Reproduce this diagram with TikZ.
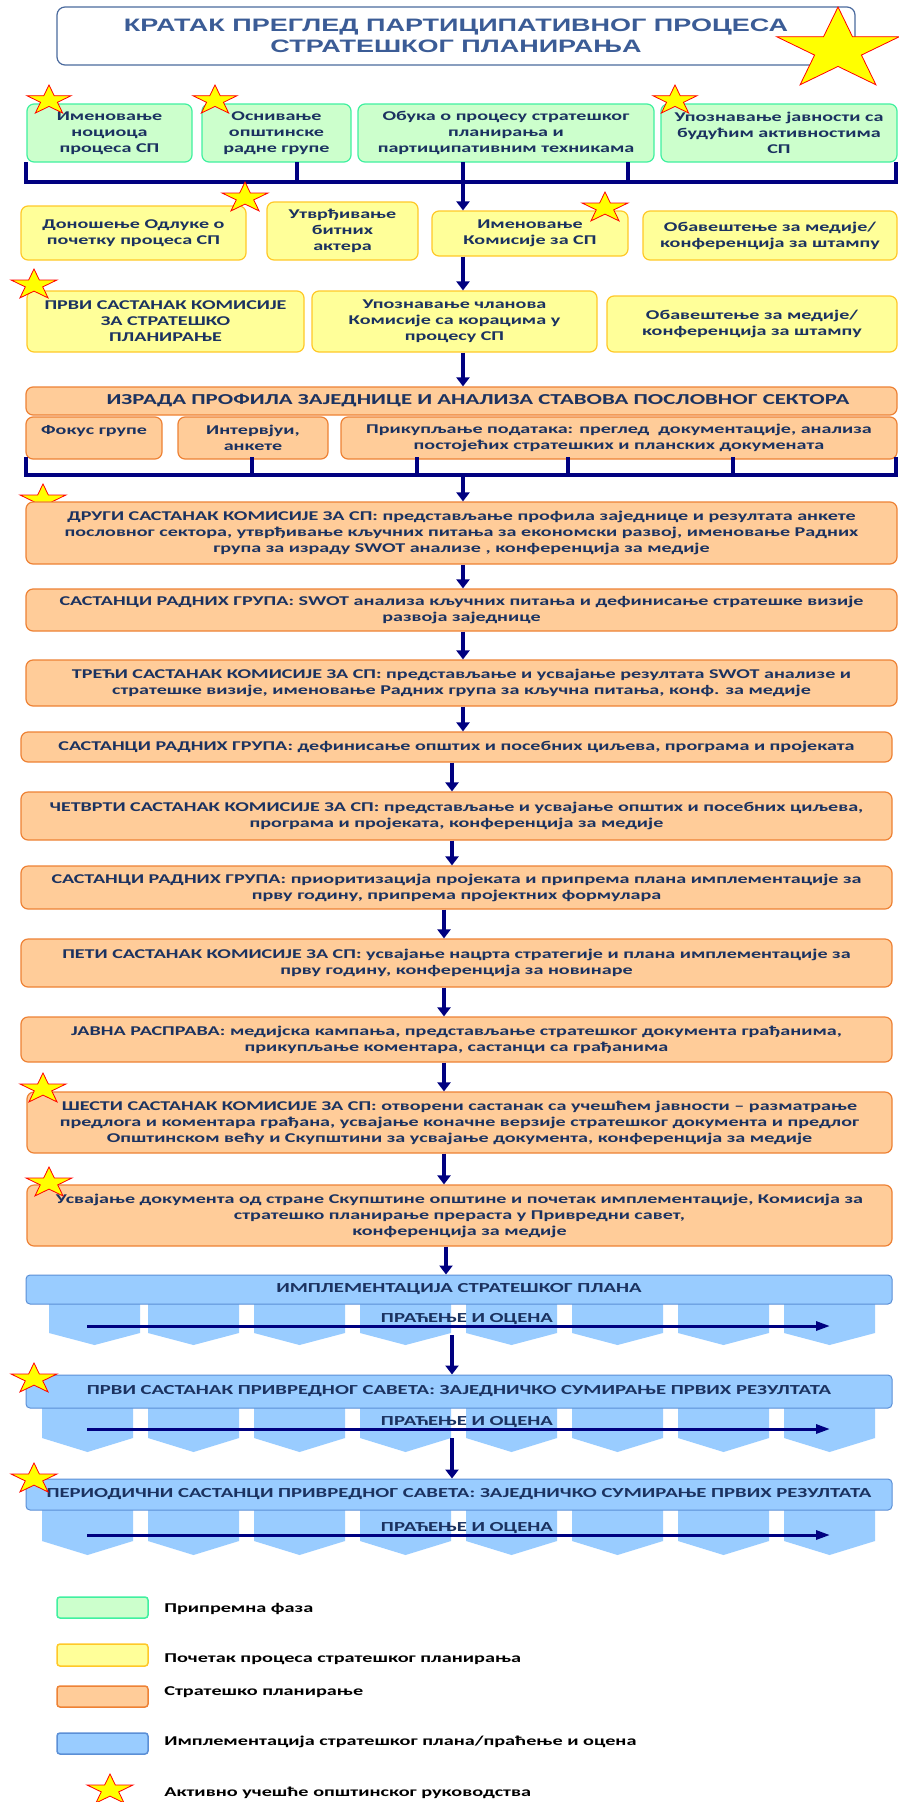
\documentclass[tikz,border=0pt]{standalone}
\usepackage{fontspec}
\setmainfont{Carlito}
\newfontfamily\titlefont{Liberation Sans}
\usetikzlibrary{shapes.geometric,arrows.meta}
\definecolor{navyc}{HTML}{000080}
\definecolor{txtc}{HTML}{1B3260}
\definecolor{titlec}{HTML}{3B5C96}
\definecolor{titledraw}{HTML}{4A6A9E}
\definecolor{gfill}{HTML}{CCFFCC}
\definecolor{gdraw}{HTML}{40F0A0}
\definecolor{yfill}{HTML}{FFFF99}
\definecolor{ydraw}{HTML}{FFC828}
\definecolor{ofill}{HTML}{FFCC99}
\definecolor{odraw}{HTML}{EE8235}
\definecolor{bfill}{HTML}{99CCFF}
\definecolor{bdraw}{HTML}{5B8FD6}
\definecolor{starfill}{HTML}{FFFF00}
\definecolor{stardraw}{HTML}{FF0000}
\newcommand\placebox[7]{%
  \pgfmathsetmacro\pbcx{(#3+#5)/2}%
  \pgfmathsetmacro\pbcy{(#4+#6)/2}%
  \pgfmathsetmacro\pbw{(#5-#3)/1.5}%
  \pgfmathsetmacro\pbh{#6-#4}%
  \node[#2, minimum width=\pbw pt, minimum height=\pbh pt] (#1) at (\pbcx,\pbcy) {#7};}
\newcommand\placestar[4]{\node[starst, minimum size=#4pt] (#1) at (#2,#3) {};}
\newcommand\chevron[5]{\fill[bfill] (#1,#3) -- (#2,#3) -- (#2,#4) -- ({(#1+#2)/2},#5) -- (#1,#4) -- cycle;}
\begin{document}
\begin{tikzpicture}[x=1pt,y=-1pt,
  bbase/.style={rounded corners=7pt, line width=1.2pt, align=center, inner sep=0pt, xscale=1.5, font=\bfseries\fontsize{13.4}{16}\selectfont, text=txtc},
  gbox/.style={bbase, fill=gfill, draw=gdraw},
  ybox/.style={bbase, fill=yfill, draw=ydraw},
  obox/.style={bbase, fill=ofill, draw=odraw},
  bbar/.style={bbase, rounded corners=4pt, fill=bfill, draw=bdraw, line width=1pt, font=\bfseries\fontsize{13.8}{16}\selectfont},
  lgbox/.style={bbase, rounded corners=3pt, line width=1.5pt},
  plain/.style={align=center, inner sep=0pt, xscale=1.5, font=\bfseries\fontsize{13.8}{16}\selectfont, text=txtc},
  legtext/.style={plain, anchor=west, text=black, font=\bfseries\fontsize{13.5}{16}\selectfont},
  starst/.style={star, star points=5, star point ratio=2.618, fill=starfill, draw=stardraw, line width=0.8pt, inner sep=0pt, xscale=1.5},
  varrow/.style={draw=navyc, line width=4pt, -{Triangle[width=13pt,length=9pt]}},
  harrow/.style={draw=navyc, line width=3pt, -{Triangle[width=9pt,length=14pt]}},
  bus/.style={draw=navyc, line width=4pt, line join=miter},
]
\fill[white] (0,0) rectangle (898,1802);
\useasboundingbox (0,0) rectangle (898,1802);
% title
\placebox{title}{bbase, rounded corners=8pt, fill=white, draw=titledraw, line width=1.2pt, text=titlec, font=\titlefont\bfseries\fontsize{18}{20.5}\selectfont}{57}{7}{855}{65}{КРАТАК ПРЕГЛЕД ПАРТИЦИПАТИВНОГ ПРОЦЕСА\\СТРАТЕШКОГ ПЛАНИРАЊА}
\placestar{bigstar}{838}{50}{86}
% preparatory phase
\placebox{g1}{gbox}{27}{104}{192}{162}{Именовање\\ноциоца\\процеса СП}
\placebox{g2}{gbox}{202}{104}{351}{162}{Оснивање\\општинске\\радне групе}
\placebox{g3}{gbox}{358}{104}{654}{162}{Обука о процесу стратешког\\планирања и\\партиципативним техникама}
\placebox{g4}{gbox}{661}{104}{897}{162}{Упознавање јавности са\\будућим активностима\\СП}
\placestar{s1}{49}{100.5}{31}
\placestar{s2}{215}{100.5}{31}
\placestar{s3}{675}{100.5}{31}
% bus 1
\draw[bus] (26,162) -- (26,182) -- (896,182) -- (896,162);
\foreach \xx in {297,463,628} \draw[bus] (\xx,162) -- (\xx,182);
\coordinate (bus1) at (463,182);
% start of process
\placebox{y1}{ybox}{21}{206}{246}{260}{Доношење Одлуке о\\почетку процеса СП}
\placebox{y2}{ybox}{267}{202}{418}{260}{Утврђивање\\битних\\актера}
\placebox{y3}{ybox}{432}{211}{628}{256}{Именовање\\Комисије за СП}
\placebox{y4}{ybox}{643}{211}{897}{260}{Обавештење за медије/\\конференција за штампу}
\placestar{s4}{245}{198}{32}
\placestar{s5}{605}{208}{32}
\placebox{y5}{ybox}{27}{291}{304}{352}{ПРВИ САСТАНАК КОМИСИЈЕ\\ЗА СТРАТЕШКО\\ПЛАНИРАЊЕ}
\placebox{y6}{ybox}{312}{291}{597}{352}{Упознавање чланова\\Комисије са корацима у\\процесу СП}
\placebox{y7}{ybox}{607}{296}{897}{352}{Обавештење за медије/\\конференција за штампу}
\placestar{s6}{34}{285}{32}
\draw[varrow] (bus1) -- (bus1 |- y3.north);
\draw[varrow] (bus1 |- y3.south) -- (bus1 |- y6.north);
% profile
\placebox{h}{obox, font=\bfseries\fontsize{15.2}{17}\selectfont}{26}{387}{897}{415}{\hspace*{22pt}ИЗРАДА ПРОФИЛА ЗАЈЕДНИЦЕ И АНАЛИЗА СТАВОВА ПОСЛОВНОГ СЕКТОРА}
\draw[varrow] (bus1 |- y6.south) -- (bus1 |- h.north);
\placebox{f1}{obox}{26}{417}{162}{459}{Фокус групе\\\phantom{Ф}}
\placebox{f2}{obox}{178}{417}{328}{459}{Интервјуи,\\анкете}
\placebox{f3}{obox}{341}{417}{897}{459}{Прикупљање података: преглед\ \ документације, анализа\\постојећих стратешких и планских докумената}
% bus 2
\draw[bus] (26,457) -- (26,475) -- (896,475) -- (896,457);
\foreach \xx in {252,417,568,733} \draw[bus] (\xx,457) -- (\xx,475);
\coordinate (bus2) at (463,475);
% strategic planning
\placestar{s7}{43}{500}{32}
\placebox{o1}{obox}{26}{502}{897}{564}{ДРУГИ САСТАНАК КОМИСИЈЕ ЗА СП: представљање профила заједнице и резултата анкете\\пословног сектора, утврђивање кључних питања за економски развој, именовање Радних\\група за израду SWOT анализе , конференција за медије}
\placebox{o2}{obox}{26}{589}{897}{631}{САСТАНЦИ РАДНИХ ГРУПА: SWOT анализа кључних питања и дефинисање стратешке визије\\развоја заједнице}
\placebox{o3}{obox}{26}{660}{897}{706}{ТРЕЋИ САСТАНАК КОМИСИЈЕ ЗА СП: представљање и усвајање резултата SWOT анализе и\\стратешке визије, именовање Радних група за кључна питања, конф. за медије}
\placebox{o4}{obox}{21}{732}{892}{762}{САСТАНЦИ РАДНИХ ГРУПА: дефинисање општих и посебних циљева, програма и пројеката}
\placebox{o5}{obox}{21}{792}{892}{840}{ЧЕТВРТИ САСТАНАК КОМИСИЈЕ ЗА СП: представљање и усвајање општих и посебних циљева,\\програма и пројеката, конференција за медије}
\placebox{o6}{obox}{21}{866}{892}{909}{САСТАНЦИ РАДНИХ ГРУПА: приоритизација пројеката и припрема плана имплементације за\\прву годину, припрема пројектних формулара}
\placebox{o7}{obox}{21}{939}{892}{987}{ПЕТИ САСТАНАК КОМИСИЈЕ ЗА СП: усвајање нацрта стратегије и плана имплементације за\\прву годину, конференција за новинаре}
\placebox{o8}{obox}{21}{1017}{892}{1062}{ЈАВНА РАСПРАВА: медијска кампања, представљање стратешког документа грађанима,\\прикупљање коментара, састанци са грађанима}
\placebox{o9}{obox}{27}{1092}{892}{1153}{ШЕСТИ САСТАНАК КОМИСИЈЕ ЗА СП: отворени састанак са учешћем јавности – разматрање\\предлога и коментара грађана, усвајање коначне верзије стратешког документа и предлог\\Општинском већу и Скупштини за усвајање документа, конференција за медије}
\placebox{o10}{obox}{27}{1185}{892}{1246}{Усвајање документа од стране Скупштине општине и почетак имплементације, Комисија за\\стратешко планирање прераста у Привредни савет,\\конференција за медије}
\placestar{s8}{43}{1089}{32}
\placestar{s9}{49}{1183}{32}
\coordinate (ax2) at (452,0);
\coordinate (ax3) at (444,0);
\coordinate (ax4) at (446,0);
\draw[varrow] (bus2) -- (bus2 |- o1.north);
\draw[varrow] (bus2 |- o1.south) -- (bus2 |- o2.north);
\draw[varrow] (bus2 |- o2.south) -- (bus2 |- o3.north);
\draw[varrow] (bus2 |- o3.south) -- (bus2 |- o4.north);
\draw[varrow] (ax2 |- o4.south) -- (ax2 |- o5.north);
\draw[varrow] (ax2 |- o5.south) -- (ax2 |- o6.north);
\draw[varrow] (ax3 |- o6.south) -- (ax3 |- o7.north);
\draw[varrow] (ax3 |- o7.south) -- (ax3 |- o8.north);
\draw[varrow] (ax3 |- o8.south) -- (ax3 |- o9.north);
\draw[varrow] (ax3 |- o9.south) -- (ax3 |- o10.north);
% implementation bands
\chevron{49}{140}{1290}{1333}{1345}
\foreach \s in {148,254,360,466,572,678,784} {\chevron{\s}{\s+91}{1290}{1333}{1345}}
\placebox{b1}{bbar}{26}{1275}{892}{1304}{ИМПЛЕМЕНТАЦИЈА СТРАТЕШКОГ ПЛАНА}
\node[plain] (m1) at (467,1319) {ПРАЋЕЊЕ И ОЦЕНА};
\coordinate (h1s) at (87,1326); \coordinate (h1e) at (830,1326);
\draw[harrow] (h1s) -- (h1e);
\draw[varrow] (ax4 |- o10.south) -- (ax4 |- b1.north);

\foreach \s in {42,148,254,360,466,572,678,784} {\chevron{\s}{\s+91}{1392}{1438}{1452}}
\placebox{b2}{bbar}{26}{1375}{892}{1408}{ПРВИ САСТАНАК ПРИВРЕДНОГ САВЕТА: ЗАЈЕДНИЧКО СУМИРАЊЕ ПРВИХ РЕЗУЛТАТА}
\node[plain] (m2) at (467,1422) {ПРАЋЕЊЕ И ОЦЕНА};
\coordinate (h2s) at (87,1429); \coordinate (h2e) at (830,1429);
\draw[harrow] (h2s) -- (h2e);
\coordinate (b1out) at (452,1335);
\draw[varrow] (b1out) -- (b1out |- b2.north);
\placestar{s10}{34}{1379}{32}

\foreach \s in {42,148,254,360,466,572,678,784} {\chevron{\s}{\s+91}{1495}{1541}{1555}}
\placebox{b3}{bbar}{26}{1479}{892}{1510}{ПЕРИОДИЧНИ САСТАНЦИ ПРИВРЕДНОГ САВЕТА: ЗАЈЕДНИЧКО СУМИРАЊЕ ПРВИХ РЕЗУЛТАТА}
\node[plain] (m3) at (467,1528) {ПРАЋЕЊЕ И ОЦЕНА};
\coordinate (h3s) at (87,1535); \coordinate (h3e) at (830,1535);
\draw[harrow] (h3s) -- (h3e);
\coordinate (b2out) at (452,1438);
\draw[varrow] (b2out) -- (b2out |- b3.north);
\placestar{s11}{34}{1479}{32}
% legend
\placebox{l1}{lgbox, fill=gfill, draw=gdraw}{57}{1597}{148}{1618}{}
\placebox{l2}{lgbox, fill=yfill, draw=ydraw}{57}{1644}{148}{1666}{}
\placebox{l3}{lgbox, fill=ofill, draw=odraw}{57}{1686}{148}{1707}{}
\placebox{l4}{lgbox, fill=bfill, draw=bdraw}{57}{1733}{148}{1754}{}
\node[legtext] (l1t) at (164,1609) {Припремна фаза};
\node[legtext] (l2t) at (164,1659) {Почетак процеса стратешког планирања};
\node[legtext] (l3t) at (164,1692) {Стратешко планирање};
\node[legtext] (l4t) at (164,1742) {Имплементација стратешког плана/праћење и оцена};
\placestar{l5}{110}{1790}{32}
\node[legtext] (l5t) at (164,1793) {Активно учешће општинског руководства};
\end{tikzpicture}
\end{document}
